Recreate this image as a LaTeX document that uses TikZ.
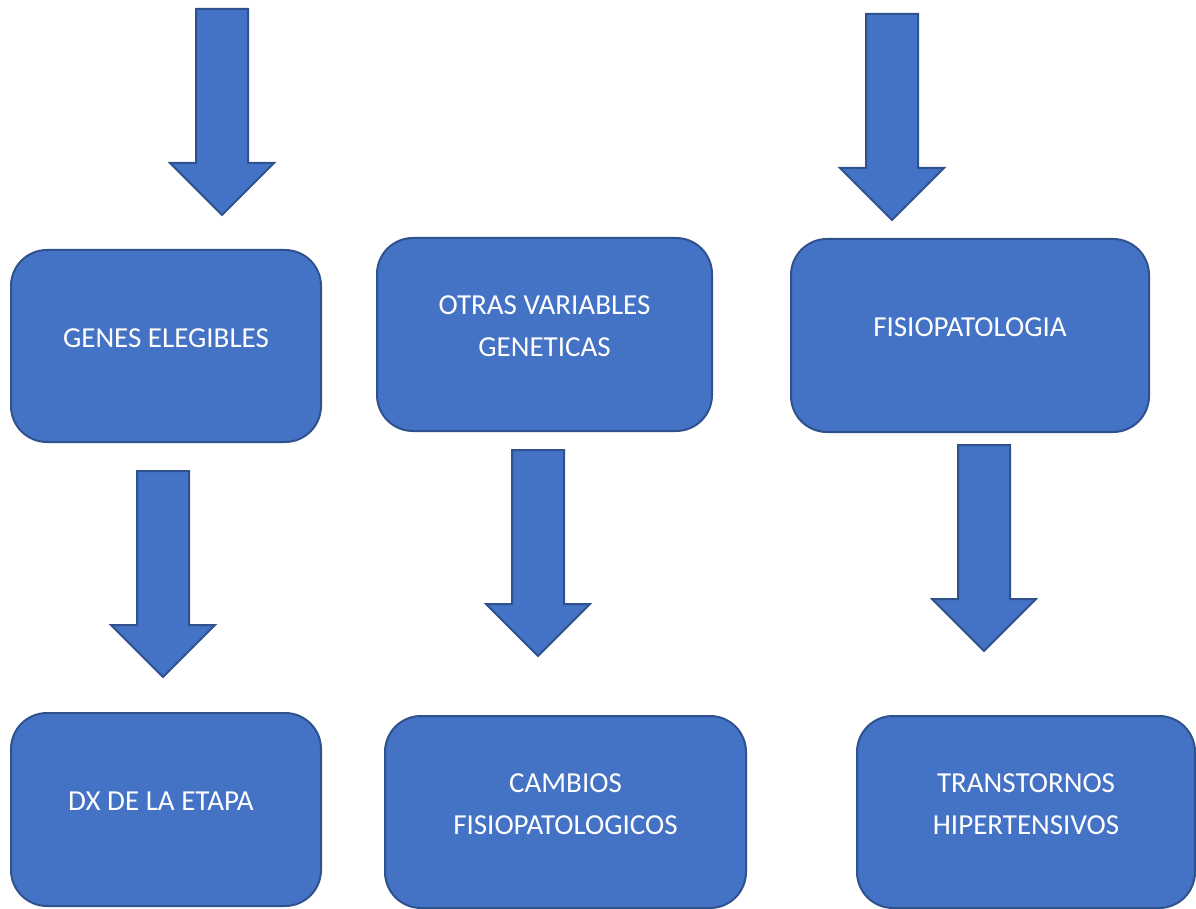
\documentclass[tikz,border=0pt]{standalone}
\usepackage{fontspec}
\setmainfont{Carlito}
\definecolor{boxblue}{HTML}{4472C4}
\definecolor{boxedge}{HTML}{2F528F}
\begin{document}
\begin{tikzpicture}[x=1pt,y=-1pt,
  boxstyle/.style={rounded corners=36pt,fill=boxblue,draw=boxedge,line width=2pt,inner sep=0pt,anchor=north west},
  txt/.style={text=white,font=\fontsize{29}{42}\selectfont,align=center,yshift=8pt},
  downarrow/.pic={\draw[fill=boxblue,draw=boxedge,line width=2pt,line join=miter]
     (-26,0) -- (26,0) -- (26,154) -- (52,154) -- (0,206) -- (-52,154) -- (-26,154) -- cycle;}]
\useasboundingbox (0,0) rectangle (1196,909);
% boxes
\node[boxstyle,minimum width=310pt,minimum height=192pt,label={[txt]center:GENES ELEGIBLES}] (b1) at (10,249) {};
\node[boxstyle,minimum width=335pt,minimum height=193pt,label={[txt]center:OTRAS VARIABLES\\GENETICAS}] (b2) at (376,237) {};
\node[boxstyle,minimum width=358pt,minimum height=193pt,label={[txt]center:FISIOPATOLOGIA}] (b3) at (790,238) {};
\node[boxstyle,minimum width=310pt,minimum height=193pt,label={[txt,xshift=-5pt]center:DX DE LA ETAPA}] (b4) at (10,712) {};
\node[boxstyle,minimum width=361pt,minimum height=192pt,label={[txt]center:CAMBIOS\\FISIOPATOLOGICOS}] (b5) at (384,715) {};
\node[boxstyle,minimum width=338pt,minimum height=192pt,label={[txt]center:TRANSTORNOS\\HIPERTENSIVOS}] (b6) at (856,715) {};
% block arrows
\pic at (222,9) {downarrow};
\pic at (892,14) {downarrow};
\pic at (163,471) {downarrow};
\pic at (538,450) {downarrow};
\pic at (984,445) {downarrow};
\end{tikzpicture}
\end{document}
